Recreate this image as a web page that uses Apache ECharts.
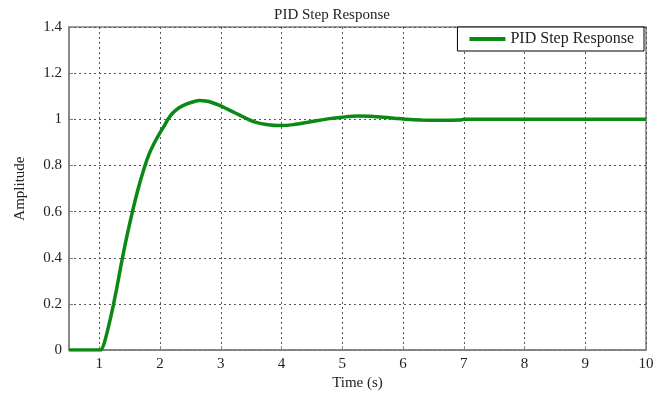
<!DOCTYPE html>
<html>
<head>
<meta charset="utf-8">
<script src="https://cdn.jsdelivr.net/npm/echarts@6/dist/echarts.min.js"></script>
<style>
  html, body { margin: 0; padding: 0; background: #fff; }
  #chart { width: 664px; height: 396px; }
</style>
</head>
<body>
<div id="chart"></div>
<script>
// step response (time in s, amplitude)
const times = [0.5, 1.0, 1.03, 1.08, 1.13, 1.18, 1.23, 1.28, 1.33, 1.38, 1.45, 1.54, 1.64, 1.74, 1.82, 1.9, 1.99, 2.06, 2.13, 2.2, 2.3, 2.43, 2.55, 2.65, 2.75, 2.85, 2.98, 3.1, 3.2, 3.31, 3.45, 3.58, 3.75, 3.97, 4.2, 4.41, 4.6, 4.79, 5.0, 5.25, 5.45, 5.62, 5.85, 6.06, 6.3, 6.6, 6.94, 7.0, 8, 9, 10]
const amplitude = [0, 0, 0, 0.03, 0.08, 0.135, 0.195, 0.26, 0.33, 0.4, 0.49, 0.595, 0.7, 0.79, 0.85, 0.895, 0.938, 0.968, 1.0, 1.025, 1.048, 1.066, 1.076, 1.081, 1.079, 1.073, 1.06, 1.045, 1.032, 1.018, 1.0, 0.987, 0.978, 0.973, 0.977, 0.986, 0.995, 1.003, 1.009, 1.014, 1.013, 1.01, 1.005, 1.0, 0.997, 0.996, 0.997, 1.0, 1.0, 1.0, 1.0]
const xTicks = [1, 2, 3, 4, 5, 6, 7, 8, 9, 10]
const seriesName = 'PID Step Response'

const font = 'Liberation Serif'
const chart = echarts.init(document.getElementById('chart'))

const axisCommon = {
  axisLine: { show: true, lineStyle: { color: '#808080', width: 1.5 } },
  axisTick: { show: true, inside: true, length: 4, lineStyle: { color: '#808080' } },
  axisLabel: { color: '#222', fontFamily: font, fontSize: 15 },
  splitLine: { show: true, lineStyle: { color: '#555', type: [2, 3], width: 1 } },
  nameTextStyle: { color: '#222', fontFamily: font, fontSize: 15 },
}

chart.setOption({
  backgroundColor: '#fff',
  animation: false,
  title: {
    text: 'PID Step Response',
    left: 'center',
    top: 3,
    textStyle: { color: '#222', fontFamily: font, fontSize: 15, fontWeight: 'normal' },
  },
  legend: {
    data: [seriesName],
    right: 20,
    top: 27,
    icon: 'rect',
    itemWidth: 36,
    itemHeight: 4,
    itemGap: 0,
    padding: [4, 10, 4, 12],
    borderColor: '#000',
    borderWidth: 1,
    backgroundColor: '#fff',
    textStyle: { color: '#222', fontFamily: font, fontSize: 16 },
  },
  grid: {
    left: 69,
    right: 18,
    top: 27,
    bottom: 44,
    show: true,
    borderColor: '#808080',
    borderWidth: 1.5,
  },
  xAxis: {
    ...axisCommon,
    type: 'value',
    min: 0.5,
    max: 10,
    name: 'Time (s)',
    nameLocation: 'middle',
    nameGap: 23,
    axisTick: { ...axisCommon.axisTick, customValues: xTicks },
    axisLabel: { ...axisCommon.axisLabel, margin: 6, customValues: xTicks },
  },
  yAxis: {
    ...axisCommon,
    type: 'value',
    min: 0,
    max: 1.4,
    interval: 0.2,
    name: 'Amplitude',
    nameLocation: 'middle',
    nameGap: 41,
    axisLabel: { ...axisCommon.axisLabel, margin: 7 },
  },
  series: [
    {
      name: seriesName,
      type: 'line',
      data: times.map((t, i) => [t, amplitude[i]]),
      showSymbol: false,
      smooth: 0.2,
      lineStyle: { color: '#0a8a14', width: 3.5 },
      itemStyle: { color: '#0a8a14' },
    },
  ],
})
</script>
</body>
</html>
